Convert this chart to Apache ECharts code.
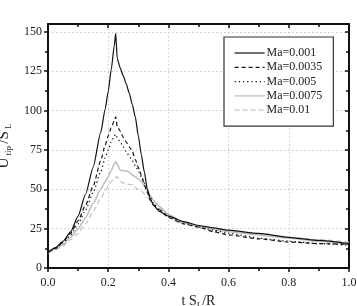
<!DOCTYPE html>
<html><head><meta charset="utf-8">
<script src="https://cdn.jsdelivr.net/npm/echarts@6/dist/echarts.min.js"></script>
<style>html,body{margin:0;padding:0;background:#fff}#c{width:357px;height:306px}</style>
</head><body><div id="c"></div>
<script>
const xs = [0, 0.025, 0.05, 0.075, 0.1, 0.125, 0.15, 0.175, 0.19, 0.2, 0.21, 0.22, 0.225, 0.23, 0.24, 0.25, 0.26, 0.27, 0.28, 0.29, 0.3, 0.31, 0.32, 0.33, 0.34, 0.35, 0.37, 0.4, 0.45, 0.5, 0.55, 0.6, 0.7, 0.8, 0.9, 1.0];
const ma0001 = [10, 13, 17, 23, 33, 47, 64, 86, 101, 112, 126, 141, 149, 133, 127, 122, 117, 111, 104, 96, 84, 72, 61, 50, 44, 40, 36, 33, 29.5, 27, 25.5, 24, 22, 19.5, 17.5, 15.5];
const ma00035 = [10, 12.5, 16.5, 22, 30, 40, 52, 68, 78, 84, 89, 93.5, 96, 90, 87, 83, 80, 77, 74, 69, 64, 59, 53, 48, 43, 40, 37, 32, 28, 26, 23, 21, 18.5, 16.5, 15.5, 15];
const ma0005 = [10, 12.5, 16, 21, 28, 37, 48, 61, 70, 75, 80, 84, 85, 83, 80, 77, 74, 71, 68, 65, 62, 58, 54, 49, 45, 41, 37, 33, 28.5, 26, 24, 22, 19, 17, 15.5, 14.5];
const ma00075 = [10, 12, 15, 19.5, 25, 32, 41, 50, 55, 58, 62, 66, 67.5, 66, 62, 62, 61.5, 61, 59, 58, 56.5, 55, 52, 49, 46, 43, 39, 34, 29, 26.5, 24.5, 23, 21, 19, 17, 15];
const ma001 = [9.5, 11.5, 14, 18, 22, 28, 36, 44, 49, 52, 55, 57, 57.5, 58, 55, 54, 53.5, 53, 53, 51, 50, 49, 47, 45, 43, 41, 38, 33, 28.5, 26.5, 25, 23.5, 21.5, 19.5, 18, 16.5];
const seriesNames = ['Ma=0.001', 'Ma=0.0035', 'Ma=0.005', 'Ma=0.0075', 'Ma=0.01'];
const yTicks = [0, 25, 50, 75, 100, 125, 150];

const FONT = 'Liberation Serif';
const pair = a => xs.map((x, i) => [x, a[i]]);
const styles = [
  {color: '#111', type: 'solid', width: 1.2},
  {color: '#111', type: [4, 3], width: 1.2},
  {color: '#111', type: [1.2, 3], width: 1.3},
  {color: '#bdbdbd', type: 'solid', width: 1.5},
  {color: '#c4c4c4', type: [5, 3], width: 1.3}
];
const data = [ma0001, ma00035, ma0005, ma00075, ma001];
const chart = echarts.init(document.getElementById('c'), null, {renderer: 'canvas'});
const axisLineStyle = {color: '#111', width: 2};
const tickStyle = {width: 1.5, color: '#111'};
chart.setOption({
  animation: false,
  backgroundColor: '#fff',
  textStyle: {fontFamily: FONT},
  grid: {left: 48, right: 8, top: 24, bottom: 38, containLabel: false, outerBoundsMode: 'none'},
  legend: {
    orient: 'vertical', left: 224, top: 37,
    backgroundColor: '#fff', borderColor: '#333', borderWidth: 1.2,
    padding: [10, 11, 10, 10], itemGap: 2.3, itemWidth: 30, itemHeight: 12,
    itemStyle: {opacity: 0},
    lineStyle: {width: 1.2},
    textStyle: {fontFamily: FONT, fontSize: 12, color: '#222', padding: [0, 0, 0, -3]},
    data: seriesNames
  },
  xAxis: [{
    type: 'value', min: 0, max: 1, interval: 0.2, position: 'bottom',
    axisLine: {show: true, onZero: false, lineStyle: axisLineStyle},
    axisTick: {show: true, inside: false, length: 4, lineStyle: tickStyle},
    minorTick: {show: true, splitNumber: 2, length: 3, lineStyle: tickStyle},
    axisLabel: {fontFamily: FONT, fontSize: 12, color: '#222', margin: 9, formatter: v => v.toFixed(1)},
    splitLine: {show: true, lineStyle: {color: '#c8c8c8', type: [1.5, 2.5], width: 1}},
    name: '{a|t S}{s|L}{a|/R}', nameLocation: 'middle', nameGap: 22,
    nameTextStyle: {rich: {a: {fontFamily: FONT, fontSize: 14, color: '#222'}, s: {fontFamily: FONT, fontSize: 9, color: '#222', padding: [9, 0, 0, 0]}}}
  }, {
    type: 'value', min: 0, max: 1, interval: 0.2, position: 'top',
    axisLine: {show: true, onZero: false, lineStyle: axisLineStyle},
    axisTick: {show: true, inside: true, length: 4, lineStyle: tickStyle},
    minorTick: {show: true, splitNumber: 2, length: 3, lineStyle: tickStyle},
    axisLabel: {show: false}, splitLine: {show: false}
  }],
  yAxis: [{
    type: 'value', min: 0, max: 155, interval: 25, position: 'left',
    axisLine: {show: true, onZero: false, lineStyle: axisLineStyle},
    axisTick: {show: true, inside: false, length: 4, customValues: yTicks, lineStyle: tickStyle},
    minorTick: {show: true, splitNumber: 2, length: 3, lineStyle: tickStyle},
    axisLabel: {fontFamily: FONT, fontSize: 12, color: '#222', margin: 6, customValues: yTicks},
    splitLine: {show: true, lineStyle: {color: '#c8c8c8', type: [1.5, 2.5], width: 1}},
    name: '{a|U}{s| tip }{a|/S}{s| L}', nameLocation: 'middle', nameGap: 20,
    nameTextStyle: {rich: {a: {fontFamily: FONT, fontSize: 15, color: '#222'}, s: {fontFamily: FONT, fontSize: 9, color: '#222', padding: [10, 0, 0, 0]}}}
  }, {
    type: 'value', min: 0, max: 155, interval: 25, position: 'right',
    axisLine: {show: true, onZero: false, lineStyle: axisLineStyle},
    axisTick: {show: true, inside: true, length: 4, customValues: yTicks, lineStyle: tickStyle},
    minorTick: {show: true, splitNumber: 2, length: 3, lineStyle: tickStyle},
    axisLabel: {show: false}, splitLine: {show: false}
  }],
  series: data.map((d, i) => ({
    name: seriesNames[i], type: 'line', showSymbol: false, symbol: 'none',
    smooth: 0.2, smoothMonotone: 'x',
    data: pair(d), lineStyle: styles[i], itemStyle: {color: styles[i].color},
    z: 10 - i
  }))
});
</script></body></html>
